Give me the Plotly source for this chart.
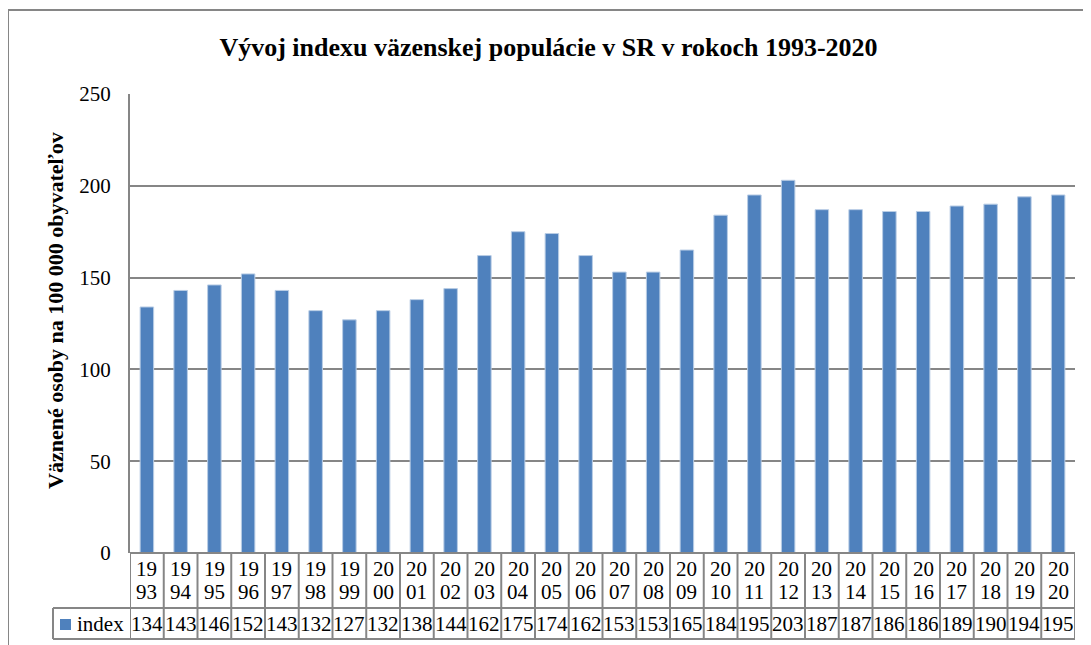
import plotly.graph_objects as go

years = [str(y) for y in range(1993, 2021)]
values = [134, 143, 146, 152, 143, 132, 127, 132, 138, 144, 162, 175, 174, 162,
          153, 153, 165, 184, 195, 203, 187, 187, 186, 186, 189, 190, 194, 195]
series_name = "index"
title_text = "Vývoj indexu väzenskej populácie v SR v rokoch 1993-2020"
y_title = "Väznené osoby na 100 000 obyvateľov"
y_ticks = [0, 50, 100, 150, 200, 250]

# page is rendered with an 8px body margin; work in reference-pixel coords
OFF = 8
W, H = 1091, 645
PLOT_L, PLOT_R, PLOT_T, PLOT_B = 130, 1075, 94, 553
L, T = PLOT_L - OFF, PLOT_T - OFF
R, B = W - (PLOT_R - OFF), H - (PLOT_B - OFF)
PW, PH = PLOT_R - PLOT_L, PLOT_B - PLOT_T
FONT = "Liberation Serif"
GRID = "#868686"
BLUE = "#4F81BD"


def px(xp):
    return (xp - PLOT_L) / PW


def py(yp):
    return (PLOT_B - yp) / PH


n = len(years)
fig = go.Figure()
fig.add_trace(go.Bar(
    x=list(range(n)), y=values, name=series_name,
    marker=dict(color=BLUE, line=dict(color="#B9CDE5", width=1)),
    showlegend=False,
))

shapes = []
# outer chart border
shapes.append(dict(type="rect", xref="paper", yref="paper",
                   x0=px(8), x1=px(1110), y0=py(680), y1=py(10),
                   line=dict(color=GRID, width=2), layer="below"))
# table horizontal lines
row_top, row_mid, row_bot = 553, 608, 639
for yy in (row_top, row_mid, row_bot):
    shapes.append(dict(type="line", xref="x", yref="paper", x0=-0.5, x1=n - 0.5,
                       y0=py(yy), y1=py(yy), line=dict(color=GRID, width=2)))
# legend cell lines
for yy in (row_mid, row_bot):
    shapes.append(dict(type="line", xref="paper", yref="paper", x0=px(53), x1=0,
                       y0=py(yy), y1=py(yy), line=dict(color=GRID, width=2)))
shapes.append(dict(type="line", xref="paper", yref="paper", x0=px(53), x1=px(53),
                   y0=py(row_mid), y1=py(row_bot), line=dict(color=GRID, width=2)))
# table vertical lines at category boundaries
for i in range(n + 1):
    shapes.append(dict(type="line", xref="x", yref="paper", x0=i - 0.5, x1=i - 0.5,
                       y0=py(row_top), y1=py(row_bot), line=dict(color=GRID, width=2)))
# legend key
shapes.append(dict(type="rect", xref="paper", yref="paper",
                   x0=px(60), x1=px(71), y0=py(630), y1=py(619),
                   fillcolor=BLUE, line=dict(width=0)))

tfont = dict(family=FONT, size=21, color="black")
annotations = []
for i, (yr, v) in enumerate(zip(years, values)):
    annotations.append(dict(x=i, y=py(569), xref="x", yref="paper", text=yr[:2],
                            showarrow=False, font=tfont, xanchor="center", yanchor="middle"))
    annotations.append(dict(x=i, y=py(592), xref="x", yref="paper", text=yr[2:],
                            showarrow=False, font=tfont, xanchor="center", yanchor="middle"))
    annotations.append(dict(x=i, y=py(623.5), xref="x", yref="paper", text=str(v),
                            showarrow=False, font=tfont, xanchor="center", yanchor="middle"))
annotations.append(dict(x=px(75), y=py(623.5), xref="paper", yref="paper",
                        text=series_name, showarrow=False, font=tfont,
                        xanchor="left", yanchor="middle"))
annotations.append(dict(x=px(55), y=py(311), xref="paper", yref="paper",
                        text="<b>" + y_title + "</b>", textangle=-90, showarrow=False,
                        font=dict(family=FONT, size=22, color="black"),
                        xanchor="center", yanchor="middle"))

fig.update_layout(
    width=W, height=H,
    margin=dict(l=L, r=R, t=T, b=B),
    paper_bgcolor="white", plot_bgcolor="white",
    title=dict(text="<b>" + title_text + "</b>", x=(548.5 - OFF) / W, xanchor="center",
               y=1 - (47 - OFF) / H, yanchor="middle", yref="container",
               font=dict(family=FONT, size=26, color="black")),
    bargap=0.6,
    shapes=shapes,
    annotations=annotations,
    xaxis=dict(range=[-0.5, n - 0.5], showticklabels=False, showgrid=False,
               zeroline=False, showline=False, ticks=""),
    yaxis=dict(range=[0, 250], tickvals=y_ticks, showgrid=True, gridcolor=GRID,
               gridwidth=2, zeroline=False, showline=True, linecolor=GRID, linewidth=2,
               ticks="", ticklabelstandoff=13,
               tickfont=dict(family=FONT, size=21, color="black")),
)

fig.write_html("out.html")
